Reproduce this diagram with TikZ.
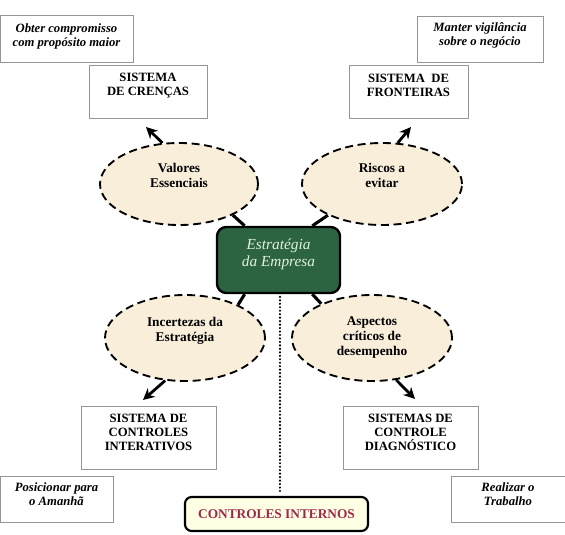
\documentclass[tikz,border=0pt]{standalone}
\usepackage{fontspec}
\setmainfont{Liberation Serif}
\usetikzlibrary{arrows.meta,shapes.geometric,calc}
\definecolor{beige}{RGB}{248,238,218}
\definecolor{boxgray}{RGB}{150,150,150}
\definecolor{darkgreen}{RGB}{44,100,66}
\definecolor{palegreen}{RGB}{225,242,220}
\definecolor{cired}{RGB}{158,40,76}
\definecolor{ciyellow}{RGB}{255,255,228}
\tikzset{
  sqbox/.style={draw=boxgray, line width=0.6pt, rectangle, inner sep=0pt},
  boxtext/.style={font=\fontsize{9.5}{10.5}\selectfont\bfseries, align=center, inner sep=0pt},
  goaltext/.style={font=\fontsize{9.5}{10.5}\selectfont\bfseries\itshape, align=center, inner sep=0pt},
  oval/.style={ellipse, draw=black, fill=beige, line width=1.4pt, dash pattern=on 6pt off 3.5pt, inner sep=0pt},
  ovaltext/.style={font=\fontsize{10}{11.25}\selectfont\bfseries, align=center, inner sep=0pt},
  conn/.style={line width=2.3pt, draw=black},
  arr/.style={line width=2.1pt, draw=black, -{Stealth[length=8.5pt,width=8.5pt]}},
  dotline/.style={line width=1.8pt, line cap=round, dash pattern=on 0pt off 2.6pt},
}
\begin{document}
\begin{tikzpicture}[x=0.75pt,y=-0.75pt]
\useasboundingbox (0,0) rectangle (565,535);

% top label boxes
\node[sqbox, minimum width=99.75pt, minimum height=35.25pt] (obt) at (66.5,38.5) {};
\node[goaltext] (obtT) at (66.5,36) {Obter compromisso\\com propósito maior};
\node[sqbox, minimum width=94.5pt, minimum height=34.5pt] (man) at (480,39) {};
\node[goaltext] (manT) at (480,35.5) {Manter vigilância\\sobre o negócio};

% system boxes top
\node[sqbox, minimum width=88.5pt, minimum height=39.75pt] (cre) at (148,91.5) {};
\node[boxtext] (creT) at (148,85.5) {SISTEMA\\DE CRENÇAS};
\node[sqbox, minimum width=89.25pt, minimum height=39.75pt] (fro) at (408.5,91.5) {};
\node[boxtext] (froT) at (408.5,85.5) {SISTEMA~~DE\\FRONTEIRAS};

% ellipses
\node[oval, minimum width=118.5pt, minimum height=61.5pt] (val) at (179,184) {};
\node[ovaltext] (valT) at (179,175) {Valores\\Essenciais};
\node[oval, minimum width=120pt, minimum height=61.5pt] (ris) at (382,184) {};
\node[ovaltext] (risT) at (382,175) {Riscos a\\evitar};
\node[oval, minimum width=120pt, minimum height=64.5pt] (inc) at (185,338) {};
\node[ovaltext] (incT) at (185,331) {Incertezas da\\Estratégia};
\node[oval, minimum width=120pt, minimum height=64.5pt] (asp) at (372,338) {};
\node[ovaltext] (aspT) at (372,338) {Aspectos\\críticos de\\desempenho};

% central box
\node[draw=black, fill=darkgreen, line width=1.8pt, rounded corners=7pt,
      minimum width=92.25pt, minimum height=49.5pt, inner sep=0pt] (gb) at (278.5,260) {};
\node[font=\fontsize{11.5}{13}\selectfont\itshape, text=palegreen, align=center, inner sep=0pt] (gbT) at (278.5,254) {Estratégia\\da Empresa};

% connectors to central box
\draw[conn] ($(gb.north west)!0.23!(gb.north east)$) -- (val.-30);
\draw[conn] ($(gb.north west)!0.77!(gb.north east)$) -- (ris.-150);
\draw[conn] ($(gb.south west)!0.23!(gb.south east)$) -- (inc.32);
\draw[conn] ($(gb.south west)!0.77!(gb.south east)$) -- (asp.146);

% bottom system boxes
\node[sqbox, minimum width=101.25pt, minimum height=47.25pt] (int) at (148.5,437.5) {};
\node[boxtext] (intT) at (148.5,432) {SISTEMA DE\\CONTROLES\\INTERATIVOS};
\node[sqbox, minimum width=101.25pt, minimum height=47.25pt] (dia) at (410.5,437.5) {};
\node[boxtext] (diaT) at (410.5,432) {SISTEMAS DE\\CONTROLE\\DIAGNÓSTICO};

% bottom label boxes
\node[sqbox, minimum width=84.75pt, minimum height=34.5pt] (pos) at (56.5,499) {};
\node[goaltext] (posT) at (56.5,494) {Posicionar para\\o Amanhã};
\node[sqbox, minimum width=85.5pt, minimum height=34.5pt] (rea) at (508,499) {};
\node[goaltext] (reaT) at (508,494) {Realizar o\\Trabalho};

% controles internos
\node[draw=black, fill=ciyellow, line width=1.6pt, rounded corners=5pt,
      minimum width=137.25pt, minimum height=25.5pt, inner sep=0pt,
      font=\fontsize{10}{12}\selectfont\bfseries, text=cired] (ci) at (276.5,514) {CONTROLES INTERNOS};

% arrows
\coordinate (tipA) at (146,127);
\coordinate (tipB) at (411,127);
\coordinate (tipC) at (143,400);
\coordinate (tipD) at (415,399);
\draw[arr] (val.112) -- (tipA);
\draw[arr] (ris.69) -- (tipB);
\draw[arr] (inc.-115) -- (tipC);
\draw[arr] (asp.-60) -- (tipD);

% dotted line
\draw[dotline] ([xshift=1.1pt,yshift=-2pt]gb.south) -- ([xshift=1.1pt,yshift=3pt]gb.south |- ci.north);
\end{tikzpicture}
\end{document}
